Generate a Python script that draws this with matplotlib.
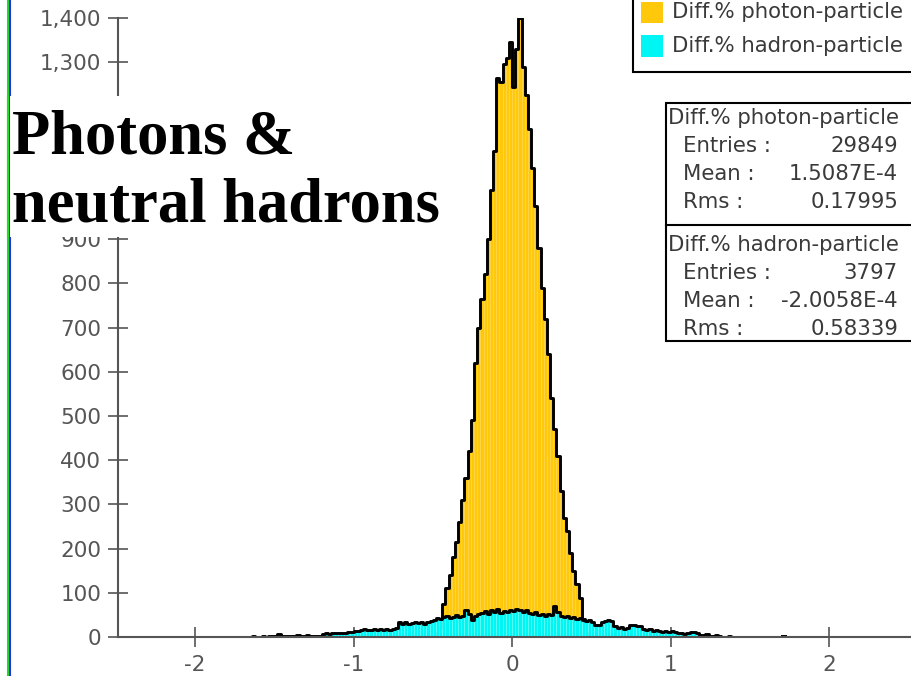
import matplotlib
matplotlib.use("Agg")
import matplotlib.pyplot as plt
from matplotlib.patches import Rectangle
from matplotlib.lines import Line2D
from matplotlib.ticker import FuncFormatter, MultipleLocator
import numpy as np

plt.rcParams['axes.unicode_minus'] = False
plt.rcParams['font.family'] = ['DejaVu Sans']

# histogram binning: 0.02 wide bins over [-2.5, 2.5]
BIN_W = 0.02
X_MIN, X_MAX = -2.5, 2.5

# Diff.% photon-particle, bins from -0.50 to 0.50
photon_start = -0.50
photon_counts = [3, 8, 20, 75, 110, 140, 180, 215, 260, 310,
                 360, 420, 490, 620, 700, 765, 820, 900, 1010, 1100,
                 1265, 1255, 1295, 1310, 1345, 1245, 1330, 1400, 1290, 1225,
                 1150, 1060, 975, 880, 790, 720, 640, 540, 470, 410,
                 330, 270, 240, 190, 150, 120, 88, 40, 10, 3]

# Diff.% hadron-particle, bins from -1.70 to 1.50
hadron_start = -1.70
hadron_counts = [1, 1, 1, 2, 1, 1, 2, 1, 2, 2, 3, 6, 2, 2, 3, 2, 2, 4, 2, 3, 5, 2, 3, 2, 3,
                 7, 8, 7, 9, 8, 9, 10, 8, 11, 12,
                 14, 13, 15, 17, 16, 15, 18, 16, 17, 15,
                 18, 16, 19, 20, 33,
                 30, 33, 29, 32, 35, 31, 34, 30, 33, 36,
                 39, 43, 41, 45, 47, 44, 46, 49, 45, 48,
                 60, 53, 39, 48, 51,
                 55, 58, 52, 60, 57, 64, 54, 59, 56, 62,
                 58, 64, 60, 57, 62,
                 54, 51, 56, 50, 52, 48, 53, 49,
                 70, 57,
                 47, 45, 48, 43, 45, 41, 44,
                 38, 36, 39, 34, 28, 27,
                 34, 37, 39, 36,
                 25, 20, 22, 19, 21,
                 27, 28, 26, 24,
                 17, 15, 18, 14, 16,
                 13, 12, 14, 11, 13, 12, 10,
                 8, 7, 9,
                 11, 12, 9,
                 5, 4, 6,
                 3, 2, 4,
                 2, 1, 1, 2, 1, 1, 0, 1, 1, 0]
# isolated single entries far out in the hadron tails
hadron_outliers = [-2.07, -1.93, -1.77, 1.57, 1.63, 1.65, 1.71, 1.71, 1.71,
                   1.85, 1.91, 1.95, 1.97, 2.27]

photon_stats = ("Diff.% photon-particle", "29849", "1.5087E-4", "0.17995")
hadron_stats = ("Diff.% hadron-particle", "3797", "-2.0058E-4", "0.58339")

YELLOW = "#FFC80A"
CYAN = "#00F5F5"
GREY = "#555555"
TXT = "#3a3a3a"
FS = 15.3

edges = np.round(np.arange(X_MIN, X_MAX + BIN_W / 2, BIN_W), 4)
nbins = len(edges) - 1


def fill_bins(start, counts):
    full = np.zeros(nbins)
    i0 = int(round((start - X_MIN) / BIN_W))
    full[i0:i0 + len(counts)] = counts
    return full


photon = fill_bins(photon_start, photon_counts)
hadron = fill_bins(hadron_start, hadron_counts)
hadron += np.histogram(hadron_outliers, bins=edges)[0]

W, H = 911, 676
fig = plt.figure(figsize=(W / 100, H / 100), dpi=100)


def fx(px):
    return px / W


def fy(py):
    return 1 - py / H


ax = fig.add_axes([fx(118), fy(637), fx(911 - 118), (637 - 18) / H])
centers = edges[:-1] + BIN_W / 2


def draw_hist(vals, face, edge, z):
    m = vals > 0
    ax.bar(centers[m], vals[m], width=BIN_W, color=face, edgecolor=edge,
           linewidth=0.4, zorder=z)
    # black outline, broken where bins are empty
    step_vals = np.where(vals > 0, vals, np.nan)
    ax.step(edges, np.append(step_vals, np.nan), where='post',
            color='black', lw=2.1, zorder=z + 0.5)
    # closing verticals at the ends of each run of filled bins
    for i in range(nbins):
        if vals[i] > 0 and (i == 0 or vals[i - 1] == 0):
            ax.plot([edges[i], edges[i]], [0, vals[i]], color='black', lw=2.1, zorder=z + 0.5)
        if vals[i] > 0 and (i == nbins - 1 or vals[i + 1] == 0):
            ax.plot([edges[i + 1], edges[i + 1]], [0, vals[i]], color='black', lw=2.1, zorder=z + 0.5)


draw_hist(photon, YELLOW, "#FFD84E", 2)
draw_hist(hadron, CYAN, "#6CFFFF", 4)


def ylab(v, p):
    # 1,000 - 1,200 sit behind the title block
    if 1000 <= v <= 1200:
        return ""
    return f"{int(v):,}"


ax.set_xlim(-2.486, 2.517)
ax.set_ylim(0, 1400)
ax.xaxis.set_major_locator(MultipleLocator(1))
ax.yaxis.set_major_locator(MultipleLocator(100))
ax.yaxis.set_major_formatter(FuncFormatter(ylab))
for s in ('top', 'right'):
    ax.spines[s].set_visible(False)
for s in ('left', 'bottom'):
    ax.spines[s].set_color(GREY)
    ax.spines[s].set_linewidth(1.5)
    ax.spines[s].set_zorder(6)
ax.tick_params(direction='inout', length=14, width=1.2, color=GREY,
               labelcolor=GREY, labelsize=15.5)
ax.tick_params(axis='y', pad=5)
ax.tick_params(axis='x', pad=6)
ax.patch.set_alpha(0)

# coloured strips at the left border
fig.add_artist(Line2D([fx(8), fx(8)], [0, 1], color="#22dd22", lw=1.5))
fig.add_artist(Line2D([fx(10), fx(10)], [0, 1], color="#2233ee", lw=1.5))

# title block over the upper part of the y axis
fig.add_artist(Rectangle((fx(9.5), fy(237)), fx(446 - 9.5), (237 - 96) / H,
                         transform=fig.transFigure, facecolor='white',
                         edgecolor='none', zorder=5))
fig.add_artist(Line2D([fx(8), fx(8)], [fy(237), fy(96)], color="#22dd22", lw=1.5, zorder=6))
for txt, base in (("Photons &", 153), ("neutral hadrons", 222)):
    fig.text(fx(12), fy(base), txt, family='Liberation Serif', weight='bold',
             fontsize=45, va='baseline', ha='left', color='black', zorder=7)

# legend
fig.add_artist(Rectangle((fx(633), fy(72)), fx(300), 80 / H, transform=fig.transFigure,
                         facecolor='white', edgecolor='black', lw=1.5, zorder=5))
for col, y0, y1, lab in ((YELLOW, 2, 23, photon_stats[0]), (CYAN, 35, 57, hadron_stats[0])):
    fig.add_artist(Rectangle((fx(641), fy(y1)), fx(22), (y1 - y0) / H,
                             transform=fig.transFigure, facecolor=col,
                             edgecolor='none', zorder=6))
    fig.text(fx(672), fy((y0 + y1) / 2), lab, fontsize=FS, color=TXT,
             va='center', ha='left', zorder=7)

# statistics box
fig.add_artist(Rectangle((fx(666), fy(341)), fx(300), (341 - 103) / H,
                         transform=fig.transFigure, facecolor='white',
                         edgecolor='black', lw=1.5, zorder=5))
fig.add_artist(Line2D([fx(666), 1], [fy(225), fy(225)], color='black', lw=1.5, zorder=6))
for stats, y_top in ((photon_stats, 118), (hadron_stats, 245)):
    name, entries, mean, rms = stats
    fig.text(fx(668), fy(y_top), name, fontsize=FS, color=TXT, va='center', zorder=7)
    for k, (lab, val) in enumerate((("Entries :", entries), ("Mean :", mean), ("Rms :", rms))):
        yy = fy(y_top + 28 * (k + 1))
        fig.text(fx(683), yy, lab, fontsize=FS, color=TXT, va='center', zorder=7)
        fig.text(fx(898), yy, val, fontsize=FS, color=TXT, va='center', ha='right', zorder=7)

fig.savefig("out.png", dpi=100)
